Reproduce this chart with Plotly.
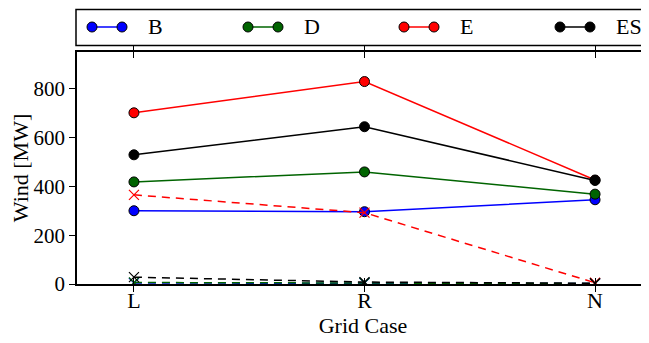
import plotly.graph_objects as go

cases = ["L", "R", "N"]
series = ["B", "D", "E", "ES"]
colors = {"B": "#0000ff", "D": "#006400", "E": "#ff0000", "ES": "#000000"}

# solid lines (circle markers)
wind_B = [300, 296, 345]
wind_D = [418, 459, 368]
wind_E = [701, 829, 426]
wind_ES = [529, 644, 424]

# dashed lines (x markers)
curt_B = [4, 4, 2]
curt_D = [6, 5, 2]
curt_E = [365, 292, 5]
curt_ES = [28, 8, 3]

y_ticks = [0, 200, 400, 600, 800]

solid = {"B": wind_B, "D": wind_D, "E": wind_E, "ES": wind_ES}
dashed = {"B": curt_B, "D": curt_D, "E": curt_E, "ES": curt_ES}

FONT = "Liberation Serif"
x = list(range(len(cases)))

# the page body adds an 8px margin: the figure is drawn 8px in from the window edge
OFF = 8
W, H = 649 - OFF, 343 - OFF
L_M, R_M, T_M, B_M = 77 - OFF, 0, 52 - OFF, 343 - 284
PW = W - L_M - R_M
PH = H - T_M - B_M


def px_x(p):  # window pixel -> paper x
    return (p - OFF - L_M) / PW


def px_y(p):  # window pixel -> paper y
    return (H - B_M - (p - OFF)) / PH


fig = go.Figure()
for s in series:
    fig.add_trace(go.Scatter(
        x=x, y=solid[s], mode="lines+markers", name=s,
        line=dict(color=colors[s], width=1.5),
        marker=dict(symbol="circle", size=10, color=colors[s],
                    line=dict(color="black", width=1)),
    ))
for s in series:
    fig.add_trace(go.Scatter(
        x=x, y=dashed[s], mode="lines+markers", name=s + " dashed",
        line=dict(color=colors[s], width=1.5, dash="8px,6px"),
        marker=dict(symbol="x-thin-open", size=10,
                    line=dict(color=colors[s], width=1.2)),
    ))

# hand-made legend (matplotlib style: line with a marker at each end)
shapes = [dict(type="rect", xref="paper", yref="paper",
               x0=px_x(76), x1=px_x(720), y0=px_y(45.5), y1=px_y(9.5),
               line=dict(color="black", width=1.5), fillcolor="white", layer="above")]
annotations = []
ly = px_y(27)
for i, s in enumerate(series):
    xa, xb, xt = 92 + 156 * i, 122 + 156 * i, 146 + 156 * i
    shapes.append(dict(type="line", xref="paper", yref="paper",
                       x0=px_x(xa), x1=px_x(xb), y0=ly, y1=ly,
                       line=dict(color=colors[s], width=1.5), layer="above"))
    for xm in (xa, xb):
        shapes.append(dict(type="circle", xref="paper", yref="paper",
                           xsizemode="pixel", ysizemode="pixel",
                           xanchor=px_x(xm), yanchor=ly,
                           x0=-5, x1=5, y0=-5, y1=5,
                           fillcolor=colors[s], line=dict(color="black", width=1),
                           layer="above"))
    annotations.append(dict(text=s, xref="paper", yref="paper",
                            x=px_x(xt), y=ly, xanchor="left", yanchor="middle",
                            showarrow=False, font=dict(family=FONT, size=22, color="black")))

fig.update_layout(
    width=W, height=H,
    margin=dict(l=L_M, r=R_M, t=T_M, b=B_M),
    paper_bgcolor="white", plot_bgcolor="white",
    font=dict(family=FONT, size=20, color="black"),
    showlegend=False,
    shapes=shapes,
    annotations=annotations,
    xaxis=dict(
        range=[-0.247, 2.234], tickvals=x, ticktext=cases,
        showline=True, linecolor="black", linewidth=1.5, mirror="allticks",
        ticks="inside", ticklen=6, tickcolor="black", showgrid=False,
        zeroline=False, tickfont=dict(family=FONT, size=22),
        ticklabelstandoff=-4,
        title=dict(text="Grid Case", font=dict(family=FONT, size=22), standoff=2),
    ),
    yaxis=dict(
        range=[0, 950], tickvals=y_ticks,
        showline=True, linecolor="black", linewidth=1.5, mirror=False,
        ticks="outside", ticklen=6, tickcolor="black", showgrid=False,
        zeroline=False, tickfont=dict(family=FONT, size=21),
        title=dict(text="Wind [MW]", font=dict(family=FONT, size=22), standoff=6),
    ),
    yaxis2=dict(
        overlaying="y", side="right", matches="y", range=[0, 950], tickvals=y_ticks,
        showticklabels=False, showline=False, showgrid=False, zeroline=False,
        ticks="inside", ticklen=3, tickcolor="black",
    ),
)
# invisible trace so the right-hand tick axis is drawn
fig.add_trace(go.Scatter(x=x, y=wind_B, yaxis="y2", mode="lines",
                         line=dict(width=0), hoverinfo="skip", showlegend=False, opacity=0))

fig.write_html("out.html")
